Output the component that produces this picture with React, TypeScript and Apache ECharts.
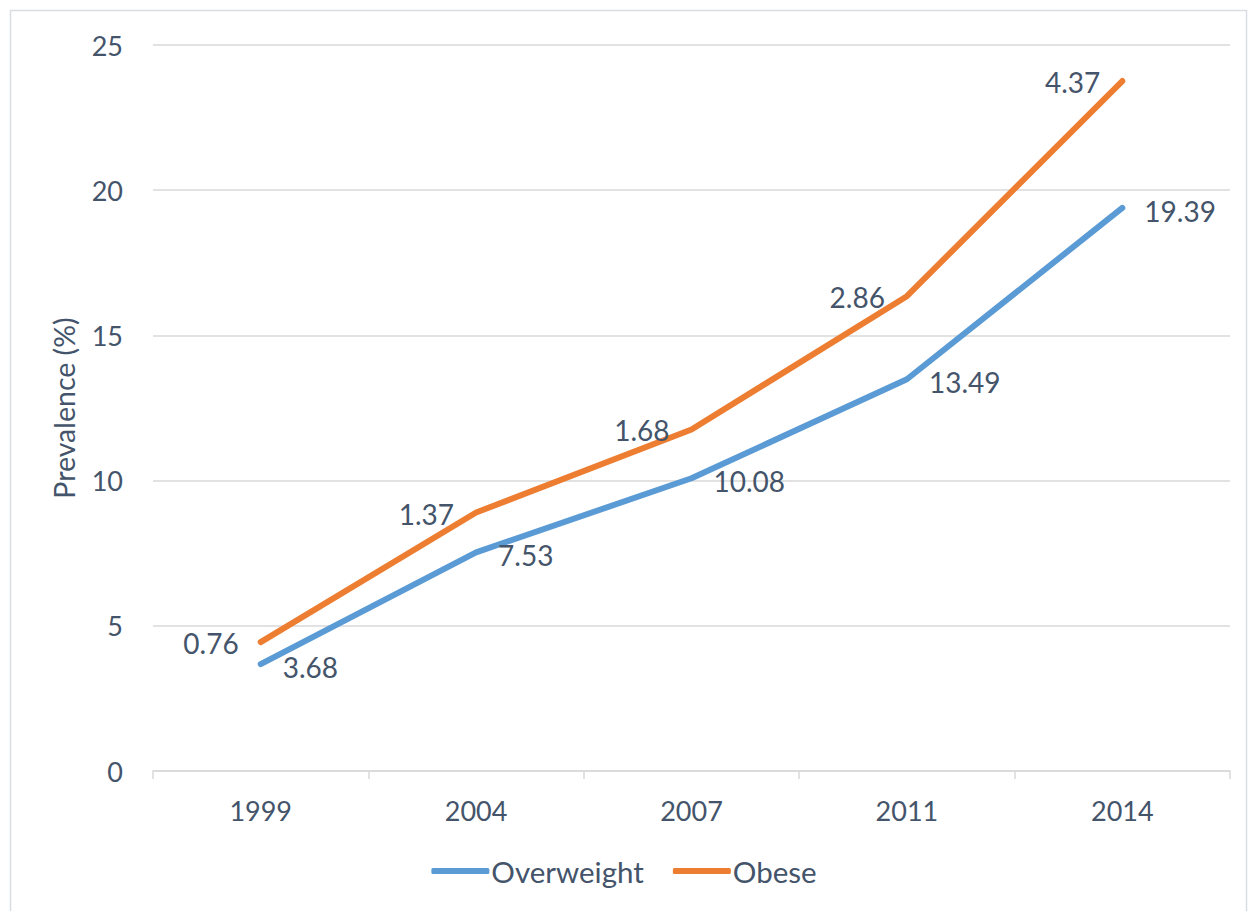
import React, { useEffect, useRef } from "react";
import * as echarts from "echarts";

const years = ["1999", "2004", "2007", "2011", "2014"];
const overweight = [3.68, 7.53, 10.08, 13.49, 19.39];
const obese = [0.76, 1.37, 1.68, 2.86, 4.37];
const yTicks = { min: 0, max: 25, interval: 5 };

const TEXT = "#44546a";
const FONT = "Lato";

export default function App() {
  const ref = useRef<HTMLDivElement>(null);
  useEffect(() => {
    if (!ref.current) return;
    const chart = echarts.init(ref.current, undefined, { renderer: "svg" });
    chart.setOption({
      animation: false,
      textStyle: { fontFamily: FONT, color: TEXT },
      graphic: [
        {
          type: "rect",
          shape: { x: 10.5, y: 10.5, width: 1236, height: 920 },
          style: { fill: "none", stroke: "#d9dde4", lineWidth: 1.5 },
          silent: true,
        },
      ],
      grid: { left: 153, right: 18, top: 45, bottom: 140 },
      legend: {
        bottom: 20,
        left: "center",
        icon: "roundRect",
        itemWidth: 58,
        itemHeight: 6,
        itemGap: 29,
        textStyle: { fontFamily: FONT, fontSize: 29.5, color: TEXT, padding: [0, 0, 0, -3] },
        data: ["Overweight", "Obese"],
      },
      xAxis: {
        type: "category",
        data: years,
        boundaryGap: true,
        axisLine: { lineStyle: { color: "#d9d9d9", width: 1.5 } },
        axisTick: { show: true, length: 8, lineStyle: { color: "#d9d9d9", width: 1.5 } },
        axisLabel: { fontSize: 27, color: TEXT, margin: 26, fontFamily: FONT },
      },
      yAxis: {
        type: "value",
        min: yTicks.min,
        max: yTicks.max,
        interval: yTicks.interval,
        name: "Prevalence (%)",
        nameLocation: "middle",
        nameGap: 75,
        nameTextStyle: { fontSize: 28.5, color: TEXT, fontFamily: FONT },
        axisLine: { show: false },
        axisTick: { show: false },
        axisLabel: { fontSize: 27, color: TEXT, margin: 30, fontFamily: FONT },
        splitLine: { lineStyle: { color: "#d9d9d9", width: 1.5 } },
      },
      series: [
        {
          name: "Overweight",
          type: "line",
          stack: "total",
          data: overweight,
          symbol: "circle",
          symbolSize: 0.01,
          showSymbol: true,
          color: "#5b9bd5",
          lineStyle: { width: 6, cap: "round", join: "round" },
          label: {
            show: true,
            position: "right",
            distance: 22,
            offset: [0, 3],
            fontSize: 28,
            color: TEXT,
            fontFamily: FONT,
          },
        },
        {
          name: "Obese",
          type: "line",
          stack: "total",
          data: obese,
          symbol: "circle",
          symbolSize: 0.01,
          showSymbol: true,
          color: "#ed7d31",
          lineStyle: { width: 6, cap: "round", join: "round" },
          label: {
            show: true,
            position: "left",
            distance: 22,
            offset: [0, 1],
            fontSize: 28,
            color: TEXT,
            fontFamily: FONT,
          },
        },
      ],
    });
    return () => chart.dispose();
  }, []);
  return (
    <div
      ref={ref}
      style={{ position: "fixed", left: 0, top: 0, width: 1248, height: 911, background: "#fff" }}
    />
  );
}
